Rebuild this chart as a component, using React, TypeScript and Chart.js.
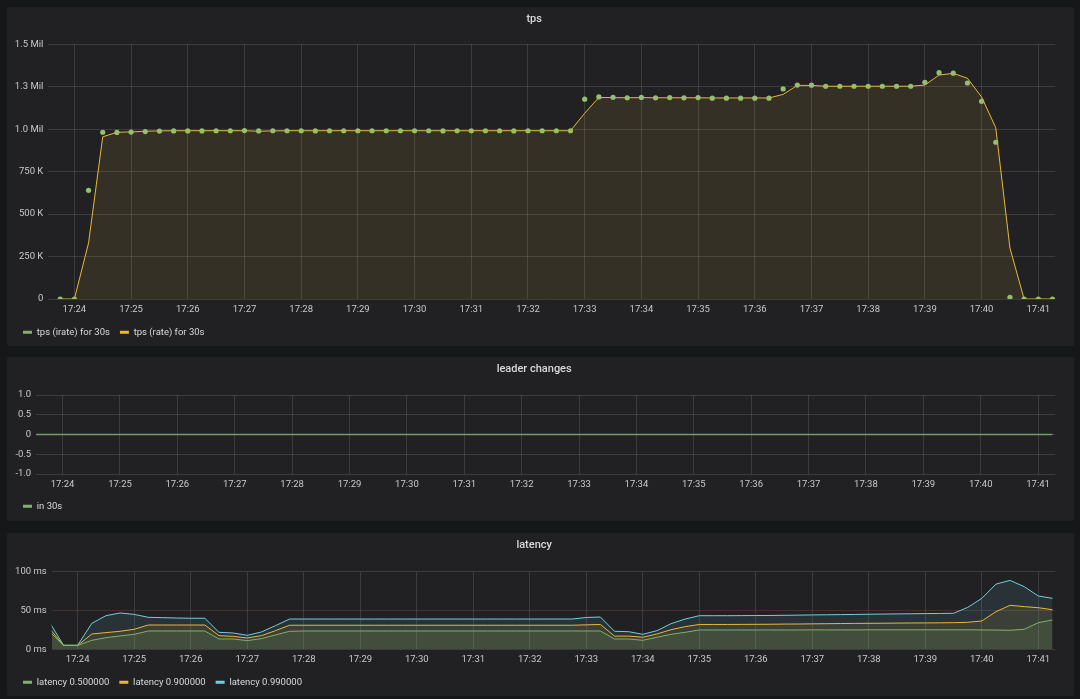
import React, { useEffect, useRef } from 'react';
import { Chart, registerables } from 'chart.js';

Chart.register(...registerables);

// ---------- data ----------
// time is in minutes past 17:00; samples every 15 s
const SAMPLE_STEP = 0.25;
const TPS_START = 23.75; // 17:23:45
const LAT_START = 23.5; // 17:23:30
const X_MIN = 23.54;
const X_MAX = 41.3;

const TIME_TICK_VALUES = [24, 25, 26, 27, 28, 29, 30, 31, 32, 33, 34, 35, 36, 37, 38, 39, 40, 41];
const TIME_TICK_LABELS = ['17:24', '17:25', '17:26', '17:27', '17:28', '17:29', '17:30', '17:31', '17:32', '17:33', '17:34', '17:35', '17:36', '17:37', '17:38', '17:39', '17:40', '17:41'];

const TPS_TICK_VALUES = [0, 250000, 500000, 750000, 1000000, 1250000, 1500000];
const TPS_TICK_LABELS = ['0', '250 K', '500 K', '750 K', '1.0 Mil', '1.3 Mil', '1.5 Mil'];

const LEADER_TICK_VALUES = [-1, -0.5, 0, 0.5, 1];
const LEADER_TICK_LABELS = ['-1.0', '-0.5', '0', '0.5', '1.0'];

const LAT_TICK_VALUES = [0, 50, 100];
const LAT_TICK_LABELS = ['0 ms', '50 ms', '100 ms'];

// tps, in thousands of transactions per second
const TPS_IRATE_K = [
  0, 0, 640, 982, 981, 983, 986, 989, 990, 990, 990, 991, 991, 992, 990, 991, 991, 991,
  990, 991, 991, 991, 991, 991, 991, 991, 991, 990, 991, 991, 991, 991, 990, 991, 991, 991,
  991, 1177, 1190, 1188, 1185, 1187, 1185, 1186, 1185, 1186, 1183, 1183, 1183, 1183, 1183,
  1237, 1260, 1259, 1253, 1253, 1253, 1253, 1253, 1253, 1253, 1276, 1333, 1330, 1272, 1164,
  923, 10, 0, 0, 0,
];
const TPS_RATE_K = [
  0, 0, 330, 955, 982, 984, 988, 990, 991, 991, 991, 991, 991, 991, 988, 990, 991, 991,
  991, 991, 991, 991, 991, 991, 991, 991, 991, 991, 991, 991, 991, 991, 991, 991, 991, 991,
  991, 1094, 1187, 1186, 1185, 1186, 1185, 1185, 1185, 1185, 1184, 1184, 1184, 1184, 1184,
  1205, 1258, 1258, 1253, 1253, 1253, 1253, 1253, 1253, 1253, 1260, 1319, 1329, 1300, 1190,
  1009, 300, 0, 0, 0,
];

const LEADER_CHANGES = [
  0, 0, 0, 0, 0, 0, 0, 0, 0, 0, 0, 0, 0, 0, 0, 0, 0, 0,
  0, 0, 0, 0, 0, 0, 0, 0, 0, 0, 0, 0, 0, 0, 0, 0, 0, 0,
  0, 0, 0, 0, 0, 0, 0, 0, 0, 0, 0, 0, 0, 0, 0, 0, 0, 0,
  0, 0, 0, 0, 0, 0, 0, 0, 0, 0, 0, 0, 0, 0, 0, 0, 0, 0,
];

// latency in ms
const LAT_P50 = [
  23, 5, 5, 11.6, 15, 17.2, 19.3, 23.6, 23.6, 23.6, 23.6, 23.6, 13.3, 13.3, 11.2, 13.7, 18.5, 23.2,
  23.6, 23.6, 23.6, 23.6, 23.6, 23.6, 23.6, 23.6, 23.6, 23.6, 23.6, 23.6, 23.6, 23.6, 23.6, 23.6, 23.6, 23.6,
  23.6, 23.6, 23.6, 23.6, 13.3, 13.3, 11.6, 15.5, 19.3, 21.9, 24.9, 24.9, 24.9, 24.9, 24.9, 24.9, 24.9, 24.9,
  25.0, 25.0, 25.0, 25.0, 25.1, 25.1, 25.1, 25.1, 25.1, 25.1, 25.1, 25.1, 25.0, 24.8, 24.5, 25.8, 34.3, 37.8,
];
const LAT_P90 = [
  27, 5, 5, 19.7, 21.5, 23.2, 25.8, 31.3, 31.3, 31.3, 31.3, 31.3, 17.6, 16.7, 14.6, 17.6, 24, 31,
  31, 31, 31, 31, 31, 31, 31, 31, 31, 31, 31, 31, 31, 31, 31, 31, 31, 31,
  31, 31, 31.5, 32, 17, 17, 15.5, 19.7, 25.3, 29.2, 32, 32, 32, 32.1, 32.2, 32.3, 32.5, 32.6,
  32.8, 33.0, 33.2, 33.4, 33.5, 33.6, 33.8, 33.9, 34.0, 34.1, 34.3, 34.8, 36.5, 48.5, 56.7, 55, 53.6, 51,
];
const LAT_P99 = [
  35, 5.2, 5.2, 33.5, 43.3, 46.8, 45, 41.2, 40.8, 40.3, 40, 40, 21.9, 21, 18, 22.3, 30.5, 39,
  39, 39, 39, 39, 39, 39, 39, 39, 39, 39, 39, 39, 39, 39, 39, 39, 39, 39,
  39, 39, 41, 41.6, 23.2, 22.7, 19.3, 24, 33, 39, 43.3, 43.3, 43.3, 43.4, 43.5, 43.6, 43.8, 44.0,
  44.3, 44.5, 44.7, 44.9, 45.2, 45.4, 45.6, 45.8, 46.0, 46.2, 46.4, 54, 65.7, 84, 88.8, 80.7, 68.7, 65.7,
];

// ---------- style ----------
const PAGE_BG = '#161719';
const PANEL_BG = '#212124';
const GRID = 'rgba(255,255,255,0.12)';
const THRESHOLD_GRID = 'rgba(160,75,75,0.32)';
const TICK_COLOR = '#c8c9cc';
const TEXT_COLOR = '#d8d9da';
const FONT = 'Roboto, "Open Sans", sans-serif';
const GREEN = '#7EB26D';
const YELLOW = '#EAB839';
const BLUE = '#6ED0E0';
const PANEL_LEFT = 7;
const PANEL_WIDTH = 1067;

const toPoints = (start: number, values: number[], scale = 1) =>
  values.map((v, i) => ({ x: start + i * SAMPLE_STEP, y: v * scale }));

type Layout = {
  title: string;
  titleTop: number;
  titleBottom: number;
  yWidth: number;
  xHeight: number;
  yMin: number;
  yMax: number;
  yTickValues: number[];
  yTickLabels: string[];
  gridColor?: (v: number) => string;
};

function makeOptions(l: Layout): any {
  return {
    animation: false,
    responsive: true,
    maintainAspectRatio: false,
    events: [],
    layout: { padding: { left: 6, right: 18.7, top: 0, bottom: 0 } },
    plugins: {
      tooltip: { enabled: false },
      title: {
        display: true,
        text: l.title,
        color: TEXT_COLOR,
        font: { family: FONT, size: 11, weight: '500' },
        padding: { top: l.titleTop, bottom: l.titleBottom },
      },
      legend: {
        display: true,
        position: 'bottom',
        align: 'start',
        labels: {
          color: TEXT_COLOR,
          font: { family: FONT, size: 9.5 },
          boxWidth: 9,
          boxHeight: 3,
          padding: 10,
          generateLabels: (chart: any) =>
            chart.data.datasets.map((d: any, i: number) => ({
              text: d.label,
              fillStyle: d.legendColor,
              strokeStyle: d.legendColor,
              fontColor: TEXT_COLOR,
              lineWidth: 0,
              hidden: false,
              datasetIndex: i,
            })),
        },
      },
    },
    scales: {
      x: {
        type: 'linear',
        min: X_MIN,
        max: X_MAX,
        afterBuildTicks: (s: any) => {
          s.ticks = TIME_TICK_VALUES.map((v) => ({ value: v }));
        },
        afterFit: (s: any) => {
          s.height = l.xHeight;
        },
        ticks: {
          autoSkip: false,
          maxRotation: 0,
          padding: 5,
          color: TICK_COLOR,
          font: { family: FONT, size: 9.5 },
          callback: (v: number) => TIME_TICK_LABELS[TIME_TICK_VALUES.indexOf(v)] ?? '',
        },
        grid: { color: GRID, drawTicks: false, lineWidth: 1 },
        border: { display: false },
      },
      y: {
        type: 'linear',
        min: l.yMin,
        max: l.yMax,
        afterBuildTicks: (s: any) => {
          s.ticks = l.yTickValues.map((v) => ({ value: v }));
        },
        afterFit: (s: any) => {
          s.width = l.yWidth;
        },
        ticks: {
          autoSkip: false,
          padding: 5,
          color: TICK_COLOR,
          font: { family: FONT, size: 9.5 },
          callback: (v: number) => l.yTickLabels[l.yTickValues.indexOf(v)] ?? '',
        },
        grid: {
          color: l.gridColor ? (ctx: any) => l.gridColor!(ctx.tick ? ctx.tick.value : 0) : GRID,
          drawTicks: false,
          lineWidth: 1,
        },
        border: { display: false },
      },
    },
  };
}

function tpsConfig(): any {
  return {
    type: 'line',
    data: {
      datasets: [
        {
          label: 'tps (irate) for 30s',
          legendColor: GREEN,
          data: toPoints(TPS_START, TPS_IRATE_K, 1000),
          showLine: false,
          pointRadius: 2.6,
          pointBackgroundColor: '#96be6c',
          pointBorderWidth: 0,
          borderColor: GREEN,
          fill: false,
        },
        {
          label: 'tps (rate) for 30s',
          legendColor: YELLOW,
          data: toPoints(TPS_START, TPS_RATE_K, 1000),
          borderColor: YELLOW,
          borderWidth: 1,
          pointRadius: 0,
          tension: 0,
          fill: 'origin',
          backgroundColor: 'rgba(234,184,57,0.10)',
        },
      ],
    },
    options: makeOptions({
      title: 'tps',
      titleTop: 5.4,
      titleBottom: 18.7,
      yWidth: 35.3,
      xHeight: 18.5,
      yMin: 0,
      yMax: 1500000,
      yTickValues: TPS_TICK_VALUES,
      yTickLabels: TPS_TICK_LABELS,
    }),
  };
}

function leaderConfig(): any {
  return {
    type: 'line',
    data: {
      datasets: [
        {
          label: 'in 30s',
          legendColor: GREEN,
          data: toPoints(LAT_START, LEADER_CHANGES),
          borderColor: 'rgba(126,178,109,0.85)',
          borderWidth: 1.6,
          pointRadius: 0,
          tension: 0,
          fill: 'origin',
          backgroundColor: 'rgba(126,178,109,0.10)',
        },
      ],
    },
    options: makeOptions({
      title: 'leader changes',
      titleTop: 5.9,
      titleBottom: 18.9,
      yWidth: 23.2,
      xHeight: 17.5,
      yMin: -1,
      yMax: 1,
      yTickValues: LEADER_TICK_VALUES,
      yTickLabels: LEADER_TICK_LABELS,
    }),
  };
}

function latencyConfig(): any {
  const series = (label: string, color: string, fillColor: string, values: number[]) => ({
    label,
    legendColor: color,
    data: toPoints(LAT_START, values),
    borderColor: color,
    borderWidth: 1,
    pointRadius: 0,
    tension: 0,
    fill: 'origin',
    backgroundColor: fillColor,
  });
  return {
    type: 'line',
    data: {
      datasets: [
        series('latency 0.500000', GREEN, 'rgba(126,178,109,0.12)', LAT_P50),
        series('latency 0.900000', YELLOW, 'rgba(234,184,57,0.10)', LAT_P90),
        series('latency 0.990000', BLUE, 'rgba(110,208,224,0.10)', LAT_P99),
      ],
    },
    options: makeOptions({
      title: 'latency',
      titleTop: 6.1,
      titleBottom: 19.4,
      yWidth: 38.7,
      xHeight: 18.2,
      yMin: 0,
      yMax: 100,
      yTickValues: LAT_TICK_VALUES,
      yTickLabels: LAT_TICK_LABELS,
      gridColor: (v: number) => (v === 50 ? THRESHOLD_GRID : GRID),
    }),
  };
}

function Panel(props: { top: number; height: number; canvasHeight: number; build: () => any }) {
  const ref = useRef<HTMLCanvasElement | null>(null);
  useEffect(() => {
    if (!ref.current) return;
    const chart = new Chart(ref.current, props.build());
    return () => chart.destroy();
  }, []);
  return (
    <div
      style={{
        position: 'absolute',
        left: PANEL_LEFT,
        top: props.top,
        width: PANEL_WIDTH,
        height: props.height,
        background: PANEL_BG,
        borderRadius: 2,
      }}
    >
      <div style={{ position: 'absolute', left: 0, top: 0, width: PANEL_WIDTH, height: props.canvasHeight }}>
        <canvas ref={ref} />
      </div>
    </div>
  );
}

export default function App() {
  return (
    <div
      style={{
        position: 'fixed',
        left: 0,
        top: 0,
        width: 1080,
        height: 699,
        background: PAGE_BG,
        overflow: 'hidden',
        fontFamily: FONT,
      }}
    >
      <Panel top={7} height={339} canvasHeight={340} build={tpsConfig} />
      <Panel top={357} height={164} canvasHeight={164} build={leaderConfig} />
      <Panel top={533} height={163} canvasHeight={164} build={latencyConfig} />
    </div>
  );
}
